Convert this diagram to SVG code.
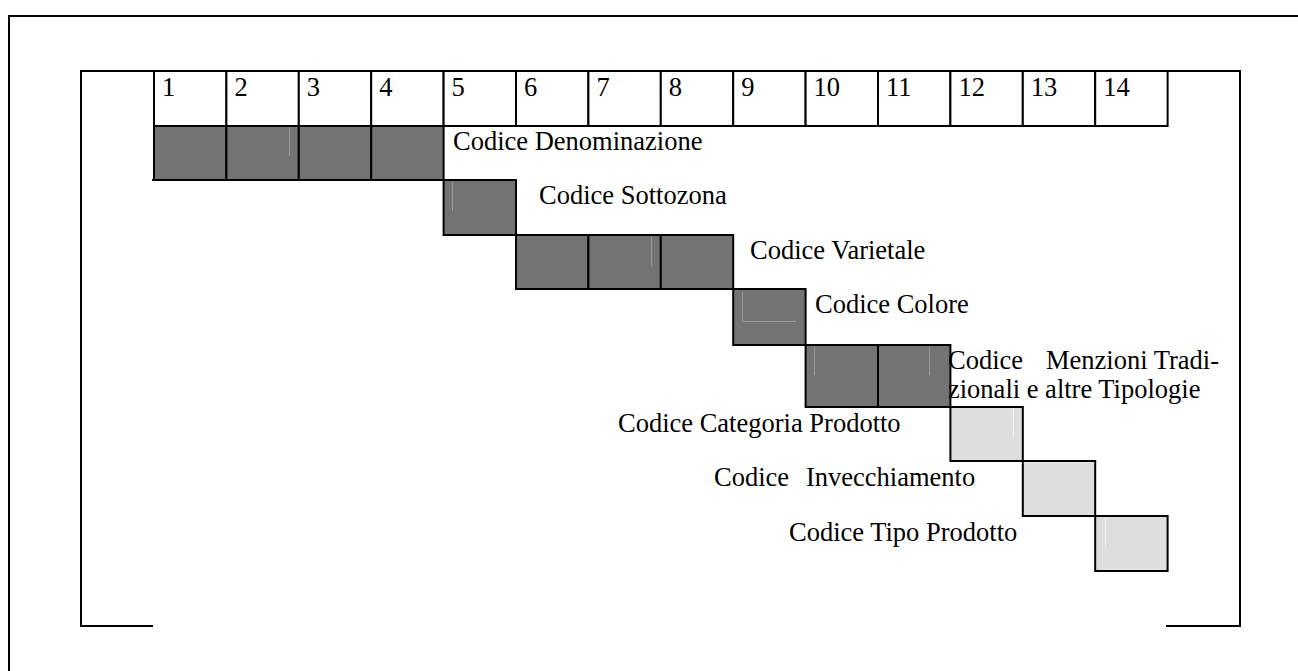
<svg xmlns="http://www.w3.org/2000/svg" width="1298" height="671" viewBox="0 0 1298 671">
<style>
.ln{fill:none;stroke:#000;stroke-width:2}
.cw{fill:#fff;stroke:#000;stroke-width:2}
.cd{fill:#737373;stroke:#000;stroke-width:2}
.cl{fill:#dedede;stroke:#000;stroke-width:2}
.fd{stroke:#9a9a9a;stroke-width:1;fill:none}
.fl{stroke:#f4f4f4;stroke-width:1;fill:none}
text{font-family:"Liberation Serif","Times New Roman",serif;font-size:26.5px;fill:#000}
</style>
<rect width="1298" height="671" fill="#fff"/>
<g id="frame">
<path class="ln" d="M9,680 V16 H1310"/>
<path class="ln" d="M153,626 H81 V71 H1240 V626 H1166"/>
</g>
<g id="ruler">
<rect class="cw" x="154" y="71" width="72.4" height="55"/>
<rect class="cw" x="226.4" y="71" width="72.4" height="55"/>
<rect class="cw" x="298.8" y="71" width="72.4" height="55"/>
<rect class="cw" x="371.2" y="71" width="72.4" height="55"/>
<rect class="cw" x="443.6" y="71" width="72.4" height="55"/>
<rect class="cw" x="516" y="71" width="72.4" height="55"/>
<rect class="cw" x="588.4" y="71" width="72.4" height="55"/>
<rect class="cw" x="660.8" y="71" width="72.4" height="55"/>
<rect class="cw" x="733.2" y="71" width="72.4" height="55"/>
<rect class="cw" x="805.6" y="71" width="72.4" height="55"/>
<rect class="cw" x="878" y="71" width="72.4" height="55"/>
<rect class="cw" x="950.4" y="71" width="72.4" height="55"/>
<rect class="cw" x="1022.8" y="71" width="72.4" height="55"/>
<rect class="cw" x="1095.2" y="71" width="72.4" height="55"/>
<text x="162" y="96">1</text>
<text x="234.4" y="96">2</text>
<text x="306.8" y="96">3</text>
<text x="379.2" y="96">4</text>
<text x="451.6" y="96">5</text>
<text x="524" y="96">6</text>
<text x="596.4" y="96">7</text>
<text x="668.8" y="96">8</text>
<text x="741.2" y="96">9</text>
<text x="813.6" y="96">10</text>
<text x="886" y="96">11</text>
<text x="958.4" y="96">12</text>
<text x="1030.8" y="96">13</text>
<text x="1103.2" y="96">14</text>
</g>
<g id="denominazione">
<rect class="cd" x="154" y="126" width="72.4" height="54"/>
<rect class="cd" x="226.4" y="126" width="72.4" height="54"/>
<rect class="cd" x="298.8" y="126" width="72.4" height="54"/>
<rect class="cd" x="371.2" y="126" width="72.4" height="54"/>
<path class="ln" d="M152,180 H154"/>
<path class="fd" d="M289.5,127 V156"/>
<text x="453" y="150">Codice Denominazione</text>
</g>
<g id="sottozona">
<rect class="cd" x="443.6" y="180" width="72.4" height="55"/>
<path class="fd" d="M452.5,182 V211"/>
<text x="539" y="204">Codice Sottozona</text>
</g>
<g id="varietale">
<rect class="cd" x="516" y="235" width="72.4" height="54"/>
<rect class="cd" x="588.4" y="235" width="72.4" height="54"/>
<rect class="cd" x="660.8" y="235" width="72.4" height="54"/>
<path class="fd" d="M651.5,237 V266"/>
<text x="750" y="259">Codice Varietale</text>
</g>
<g id="colore">
<rect class="cd" x="733.2" y="289" width="72.4" height="56"/>
<path class="fd" d="M742.5,292 V321.5 H796"/>
<text x="815" y="313">Codice Colore</text>
</g>
<g id="menzioni">
<rect class="cd" x="805.6" y="345" width="72.4" height="62"/>
<rect class="cd" x="878" y="345" width="72.4" height="62"/>
<path class="fd" d="M814.5,347 V375 M929.5,347 V375"/>
<text x="948" y="369">Codice<tspan x="1046">Menzioni Tradi-</tspan></text>
<text x="948" y="398">zionali e altre Tipologie</text>
</g>
<g id="categoria">
<rect class="cl" x="950.4" y="407" width="72.4" height="54"/>
<path class="fl" d="M1013.5,409 V438"/>
<text x="618" y="432">Codice Categoria Prodotto</text>
</g>
<g id="invecchiamento">
<rect class="cl" x="1022.8" y="461" width="72.4" height="55"/>
<text x="714" y="486">Codice<tspan x="806">Invecchiamento</tspan></text>
</g>
<g id="tipo">
<rect class="cl" x="1095.2" y="516" width="72.4" height="55"/>
<path class="fl" d="M1105.5,518 V547"/>
<text x="789" y="541">Codice Tipo Prodotto</text>
</g>
<g id="connectors"></g>
</svg>
